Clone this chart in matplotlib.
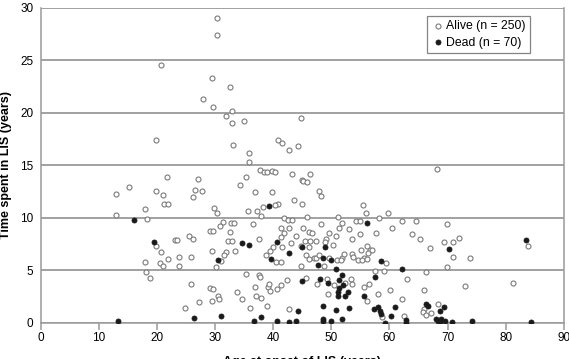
import matplotlib
matplotlib.use("Agg")
import numpy as np
from matplotlib import pyplot as plt

plt.rcParams['font.family'] = ['Liberation Sans', 'DejaVu Sans']

# age at onset (years) and time spent in LIS (years)
alive_age = [30.3, 30.3, 20.8, 29.5, 28.0, 29.7, 19.8, 21.7, 27.1, 32.6, 32.9, 31.9, 33.0, 34.9,
             44.7, 33.1, 40.9, 41.5, 42.7, 44.3, 35.9, 35.8, 37.7, 38.4, 39.0, 39.8, 40.3, 43.2,
             46.4, 35.3, 45.0, 68.1,
             15.2, 12.9, 19.9, 21.1, 26.5, 27.7, 26.3, 21.2, 21.9, 17.9, 29.9, 30.3, 12.9, 18.3,
             29.1, 29.7, 25.6, 26.2, 23.2, 23.5, 19.9, 20.7, 29.4, 23.8, 25.9, 22.0, 18.0, 20.6,
             21.0, 23.8, 30.2, 18.1, 18.8, 25.9, 29.1, 29.7, 30.5, 29.5, 27.2, 24.8,
             45.1, 45.8, 34.3, 36.8, 39.8, 43.5, 44.9, 47.8, 48.2, 40.9, 40.4, 38.2, 37.2, 35.7,
             37.9, 41.8, 42.5, 43.2, 45.9, 51.1, 31.3, 32.8, 33.2, 36.5, 48.2, 51.8, 41.3, 42.8,
             45.2, 51.3, 32.5, 41.9, 46.2, 46.6, 49.6, 50.8, 53.1, 43.9, 37.6, 41.3, 49.1, 32.3,
             33.0, 43.0, 45.5, 47.3, 48.9, 44.8, 50.3, 53.6, 41.6, 39.9, 39.4, 31.9, 31.6, 38.7,
             45.7, 47.1, 47.4, 47.9, 49.6, 51.9, 52.2, 53.5, 53.8, 31.0, 40.5, 41.4, 51.0, 51.7,
             44.7, 48.7, 35.3, 37.6, 37.7, 42.3, 45.7, 49.3, 47.5, 50.4, 53.3, 53.6, 33.8, 36.8,
             39.1, 39.3, 40.6, 41.3, 34.7, 37.1, 37.9, 49.4, 36.0, 39.0, 42.7,
             55.4, 55.9, 59.8, 58.2, 54.3, 54.9, 62.2, 64.5, 69.8, 60.5, 57.7, 54.9, 63.8, 65.2,
             72.0, 69.4, 70.9, 83.8, 56.1, 67.0, 55.1, 56.6, 57.0, 56.3, 55.6, 54.6, 55.3, 56.2,
             70.9, 73.9, 59.4, 59.0, 57.5, 66.2, 69.8, 63.0, 52.3, 55.7, 56.5, 60.1, 66.0, 73.0,
             81.3, 56.1, 58.1, 62.2, 66.0, 68.4, 65.8, 66.3, 67.1, 58.7, 62.5,
             46.4, 46.1, 30.9, 33.4, 30.7, 39.5, 46.1]
alive_time = [29.0, 27.4, 24.5, 23.3, 21.3, 20.5, 17.4, 13.9, 13.7, 22.4, 20.2, 19.7, 19.0, 19.2,
              19.5, 16.9, 17.4, 17.1, 16.4, 16.8, 16.2, 15.3, 14.5, 14.3, 14.3, 14.4, 14.3, 14.2,
              14.2, 13.9, 13.6, 14.6,
              12.9, 12.3, 12.5, 12.2, 12.6, 12.5, 12.0, 11.3, 11.3, 10.8, 10.9, 10.4, 10.3, 9.9,
              8.7, 8.7, 8.3, 8.0, 7.9, 7.9, 7.3, 6.7, 6.8, 6.3, 6.3, 6.1, 5.8, 5.7,
              5.4, 5.4, 5.3, 4.8, 4.3, 3.7, 3.3, 3.2, 2.5, 2.1, 2.0, 1.4,
              13.5, 13.4, 13.1, 12.4, 12.4, 11.7, 11.3, 12.5, 12.1, 11.3, 11.2, 11.0, 10.6, 10.6,
              10.2, 10.0, 9.8, 9.8, 10.1, 10.1, 9.6, 9.5, 9.5, 9.4, 9.4, 9.5, 9.0, 9.0,
              9.0, 9.0, 8.6, 8.5, 8.6, 8.5, 8.5, 8.3, 8.9, 8.3, 8.0, 8.2, 8.0, 7.8,
              7.8, 7.6, 7.8, 7.8, 7.7, 7.3, 7.4, 8.0, 7.2, 7.2, 6.8, 6.7, 6.4, 6.4,
              6.4, 6.2, 6.2, 6.4, 6.2, 6.2, 6.5, 6.5, 6.3, 5.9, 5.8, 5.8, 6.0, 6.0,
              5.4, 5.4, 4.6, 4.5, 4.4, 4.1, 4.3, 4.2, 3.7, 3.6, 4.2, 3.7, 2.9, 3.4,
              3.4, 3.7, 3.2, 3.6, 2.3, 2.5, 2.4, 2.7, 1.4, 1.6, 1.3,
              11.2, 10.4, 10.4, 10.0, 9.7, 9.7, 9.7, 9.7, 9.4, 9.0, 8.5, 8.4, 8.4, 8.0,
              8.1, 7.7, 7.7, 7.3, 7.3, 7.1, 6.9, 6.9, 6.9, 6.6, 6.2, 6.0, 6.0, 6.1,
              6.3, 6.2, 5.7, 4.9, 4.9, 4.8, 5.3, 4.2, 3.8, 3.4, 3.7, 3.1, 3.1, 3.5,
              3.8, 2.1, 2.7, 2.3, 1.3, 1.8, 1.0, 0.76, 0.93, 0.5, 0.6,
              7.8, 7.2, 9.2, 6.8, 2.3, 3.0, 6.1]

dead_age = [16.0, 19.5, 30.6, 26.4, 13.3, 39.2, 34.7, 35.8, 40.6, 45.0, 48.9, 42.7, 39.7, 48.6,
            50.0, 47.7, 50.8, 44.9, 48.1, 49.5, 51.4, 51.8, 51.4, 51.2, 52.9, 52.4, 51.2, 48.6,
            50.8, 53.0, 44.2, 31.1, 37.9, 36.7, 40.6, 42.8, 44.0, 48.5, 48.5, 49.9, 51.8, 56.2,
            83.4, 70.3, 58.6, 57.5, 62.1, 55.7, 66.2, 66.6, 69.4, 68.7, 57.3, 58.1, 58.4, 58.6,
            60.9, 60.3, 59.3, 62.9, 62.9, 68.0, 68.4, 68.7, 68.9, 69.6, 70.7, 74.2, 84.4, 52.0]
dead_time = [9.8, 7.7, 6.0, 0.45, 0.2, 11.1, 7.6, 7.4, 7.7, 7.2, 7.2, 6.6, 6.1, 6.2,
             6.0, 5.5, 5.1, 4.0, 4.2, 3.8, 4.1, 4.5, 3.3, 2.9, 2.9, 2.5, 2.5, 1.6,
             1.2, 1.4, 1.1, 0.64, 0.54, 0.16, 0.16, 0.07, 0.16, 0.4, 0.16, 0.16, 0.4, 9.5,
             7.9, 7.0, 5.9, 4.4, 5.1, 2.5, 1.8, 1.6, 1.5, 1.15, 1.3, 1.5, 1.1, 0.8,
             1.5, 0.64, 0.0, 0.26, 0.0, 0.4, 0.2, 0.1, 0.4, 0.2, 0.07, 0.2, 0.1, 3.6]

fig = plt.figure(figsize=(5.69, 3.59), dpi=100)
ax = fig.add_axes([0.0712, 0.101, 0.92, 0.878])

ax.set_xlim(0, 90)
ax.set_ylim(0, 30)
ax.set_xticks(np.arange(0, 91, 10))
ax.set_yticks(np.arange(0, 31, 5))
ax.yaxis.grid(True, color='#9a9a9a', linewidth=1.3)
ax.set_axisbelow(True)
for s in ['left', 'right', 'bottom']:
    ax.spines[s].set_color('#9a9a9a')
    ax.spines[s].set_linewidth(1.1)
ax.spines['top'].set_visible(False)
ax.tick_params(axis='x', length=5, color='#9a9a9a', width=1.1, labelsize=8.5, pad=2)
ax.tick_params(axis='y', length=0, labelsize=8.5, pad=5)

ax.scatter(alive_age, alive_time, s=13, facecolors='white', edgecolors='#7a7a7a',
           linewidths=0.8, label='Alive (n = 250)', zorder=3)
ax.scatter(dead_age, dead_time, s=13, facecolors='#1a1a1a', edgecolors='#1a1a1a',
           linewidths=0.6, label='Dead (n = 70)', zorder=4)

ax.set_xlabel('Age at onset of LIS (years)', fontsize=9, fontweight='bold', labelpad=8)
ax.set_ylabel('Time spent in LIS (years)', fontsize=9, fontweight='bold', labelpad=6)

leg = ax.legend(loc='upper right', bbox_to_anchor=(0.935, 0.973), borderaxespad=0,
                fontsize=8.8, frameon=True, fancybox=False, edgecolor='#666666',
                handletextpad=0.2, borderpad=0.35, labelspacing=0.35, handlelength=1.0,
                scatterpoints=1)
leg.get_frame().set_linewidth(0.9)

plt.savefig('out.png', dpi=100)
